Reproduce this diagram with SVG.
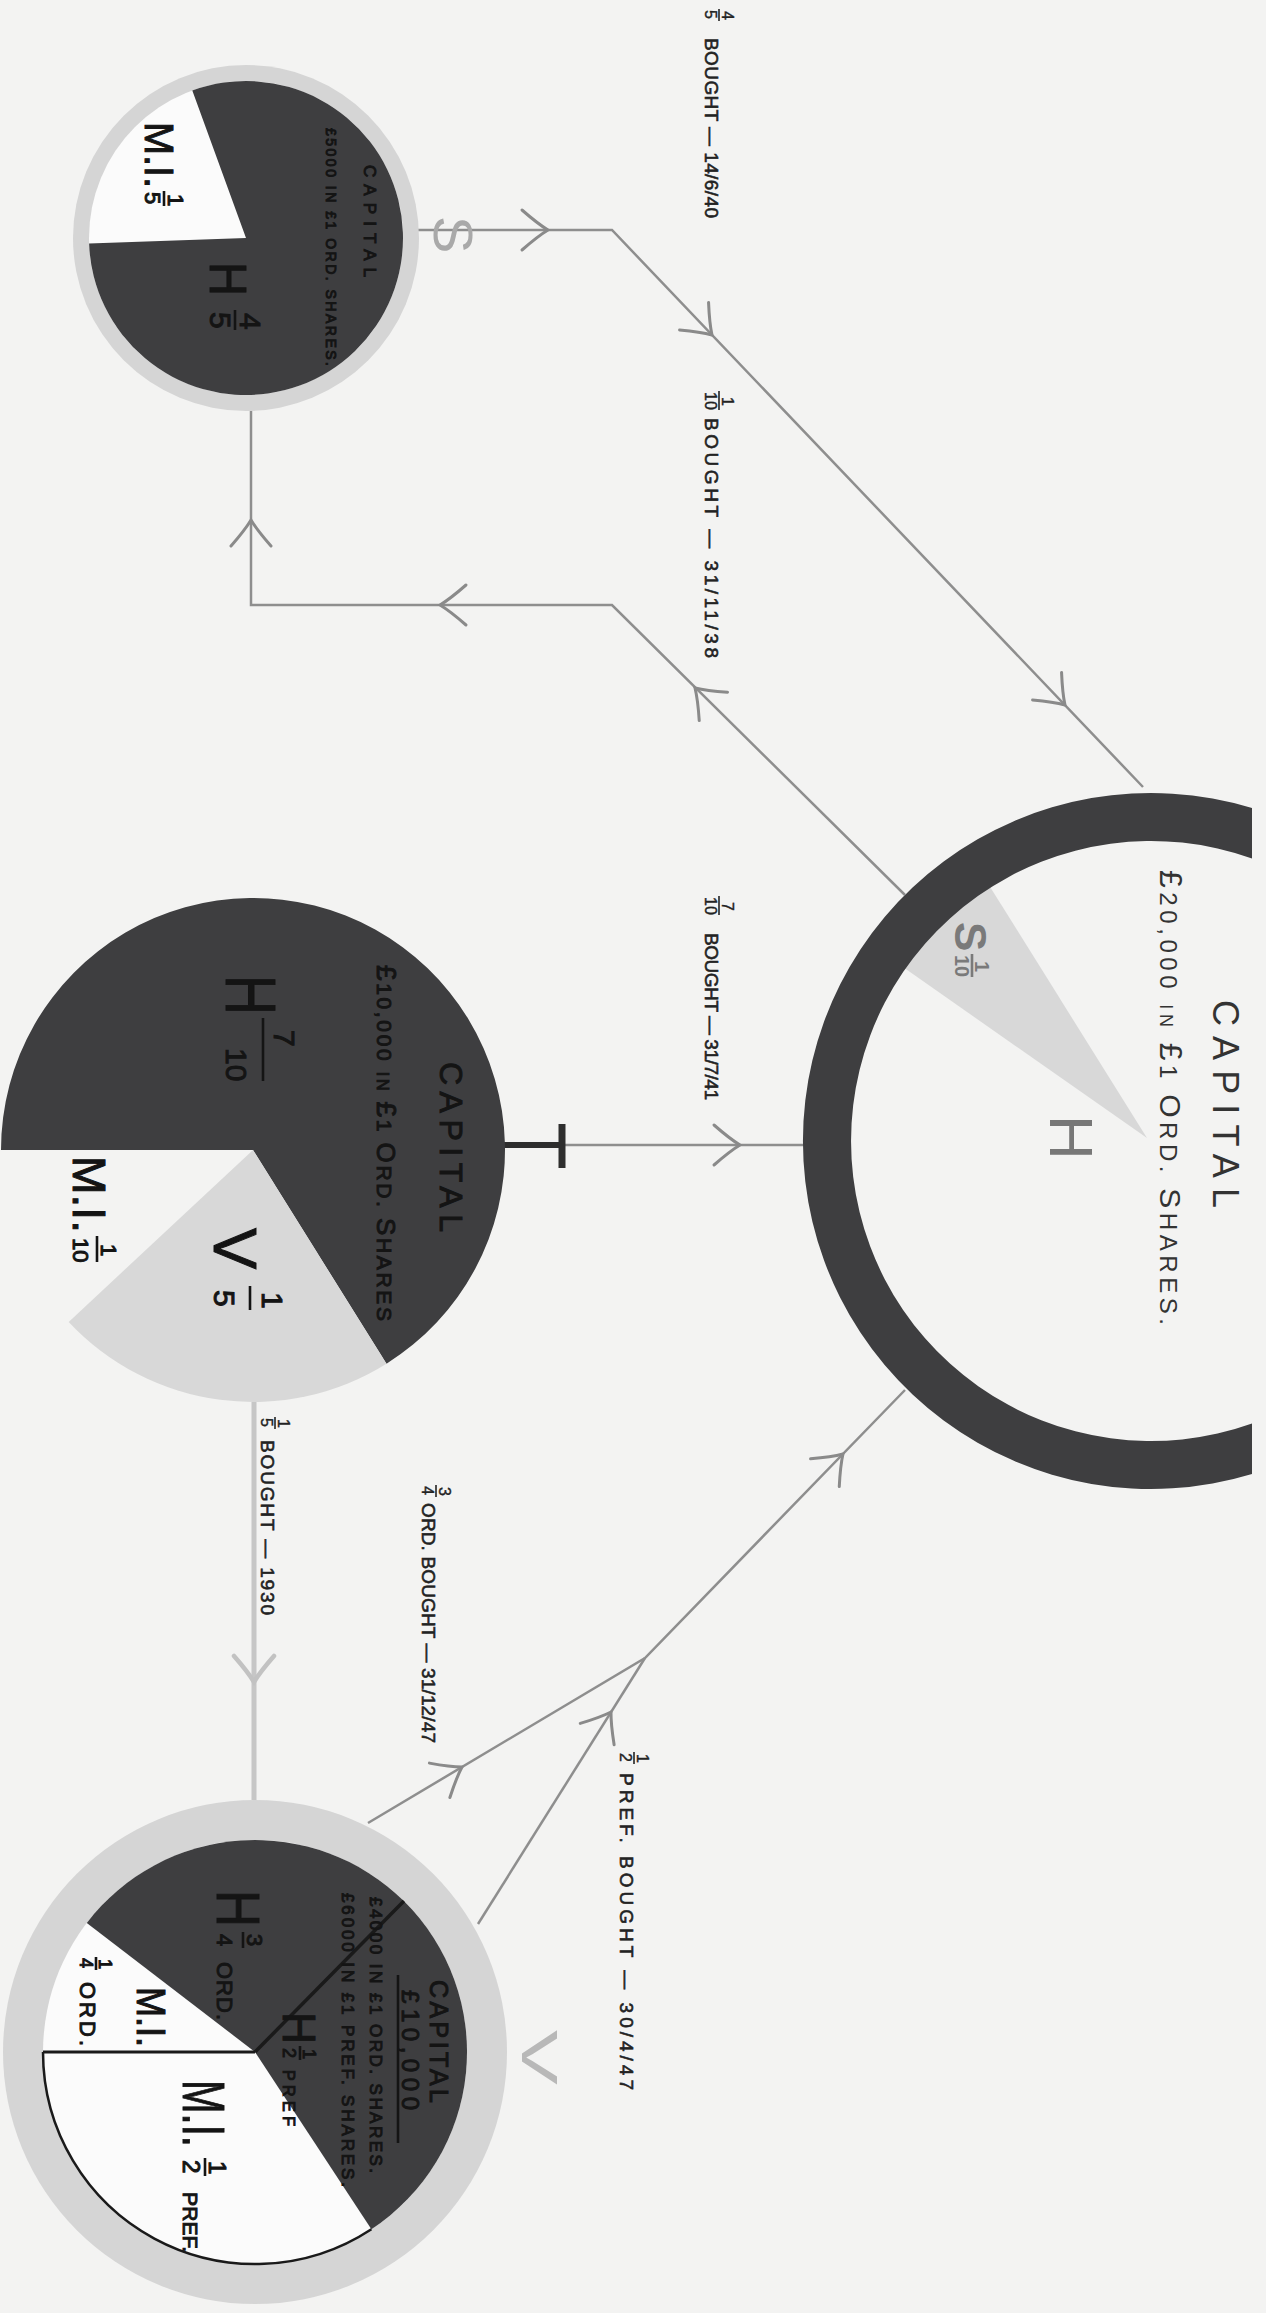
<svg xmlns="http://www.w3.org/2000/svg" xmlns:xlink="http://www.w3.org/1999/xlink" width="1266" height="2313" viewBox="0 0 1266 2313">
<defs>
<style>
.t{font-family:"Liberation Sans","DejaVu Sans",sans-serif;}
.lbl{fill:#222;stroke:#222;stroke-width:0.6;font-size:19px;}
.fr{fill:#222;stroke:#222;stroke-width:0.4;font-size:16px;}
.dk{fill:#141414;stroke:#141414;stroke-width:1;}
.bar{stroke:#222;stroke-width:1.6;}
.bard{stroke:#141414;stroke-width:2.6;}
.conn{fill:none;stroke:#8e8e8e;stroke-width:2.5;}
.connl{fill:none;stroke:#c6c6c6;stroke-width:5;}
.chev{fill:none;stroke:#8a8a8a;stroke-width:3;stroke-linecap:round;}
.chevl{fill:none;stroke:#c2c2c2;stroke-width:4.5;stroke-linecap:round;}
.dark{fill:#3e3e40;}
.ring{fill:#d5d5d5;}
.paper{fill:#fbfbfb;}
</style>
<path id="chev" d="M-26,-20 Q-10,-6 0,0 Q-10,6 -26,20"/>
</defs>
<rect x="0" y="0" width="1266" height="2313" fill="#f3f3f2"/>

<g id="connectors">
<path class="conn" d="M418,230 L612,230 L1143,787"/>
<path class="conn" d="M905,895 L612,605 L251,605 L251,411"/>
<path class="conn" d="M562,1145 L806,1145"/>
<path d="M503,1145 L562,1145" stroke="#2e2e2e" stroke-width="6" fill="none"/>
<path d="M562,1124 L562,1168" stroke="#2e2e2e" stroke-width="7" fill="none"/>
<path class="connl" d="M254,1402 L254,1800"/>
<path class="conn" d="M368,1823 L645,1658 L905,1390"/>
<path class="conn" d="M478,1924 L645,1658"/>
<use href="#chev" class="chev" transform="translate(548,230)"/>
<use href="#chev" class="chev" transform="translate(712,335) rotate(46.4)"/>
<use href="#chev" class="chev" transform="translate(1065,705) rotate(46.4)"/>
<use href="#chev" class="chev" transform="translate(695,688) rotate(225)"/>
<use href="#chev" class="chev" transform="translate(440,605) rotate(180)"/>
<use href="#chev" class="chev" transform="translate(251,520) rotate(270)"/>
<use href="#chev" class="chev" transform="translate(740,1145)"/>
<use href="#chev" class="chevl" transform="translate(254,1682) rotate(90)"/>
<use href="#chev" class="chev" transform="translate(462,1767) rotate(-30.8)"/>
<use href="#chev" class="chev" transform="translate(611,1712) rotate(-57.9)"/>
<use href="#chev" class="chev" transform="translate(843,1454) rotate(-45.9)"/>
</g>

<g id="labels" class="t">
<g id="lbl-s-h" transform="translate(705,10) rotate(90)">
<text class="fr" x="0" y="0">5</text><line class="bar" x1="-1" y1="-14" x2="11" y2="-14"/><text class="fr" x="1" y="-17">4</text>
<text class="lbl" x="28" y="0" textLength="180">BOUGHT — 14/6/40</text>
</g>
<g id="lbl-h-s" transform="translate(705,392) rotate(90)">
<text class="fr" x="0" y="0">10</text><line class="bar" x1="-1" y1="-14" x2="18" y2="-14"/><text class="fr" x="5" y="-17">1</text>
<text class="lbl" x="26" y="0" textLength="240">BOUGHT — 31/11/38</text>
</g>
<g id="lbl-v-h" transform="translate(705,897) rotate(90)">
<text class="fr" x="0" y="0">10</text><line class="bar" x1="-1" y1="-14" x2="18" y2="-14"/><text class="fr" x="5" y="-17">7</text>
<text class="lbl" x="36" y="0" textLength="167">BOUGHT — 31/7/41</text>
</g>
<g id="lbl-v-v" transform="translate(261,1418) rotate(90)">
<text class="fr" x="0" y="0">5</text><line class="bar" x1="-1" y1="-14" x2="11" y2="-14"/><text class="fr" x="1" y="-17">1</text>
<text class="lbl" x="22" y="0" textLength="175">BOUGHT — 1930</text>
</g>
<g id="lbl-ord" transform="translate(422,1486) rotate(90)">
<text class="fr" x="0" y="0">4</text><line class="bar" x1="-1" y1="-14" x2="11" y2="-14"/><text class="fr" x="1" y="-17">3</text>
<text class="lbl" x="17" y="0" textLength="240">ORD. BOUGHT — 31/12/47</text>
</g>
<g id="lbl-pref" transform="translate(620,1753) rotate(90)">
<text class="fr" x="0" y="0">2</text><line class="bar" x1="-1" y1="-14" x2="11" y2="-14"/><text class="fr" x="1" y="-17">1</text>
<text class="lbl" x="20" y="0" textLength="317">PREF. BOUGHT — 30/4/47</text>
</g>
</g>

<g id="node-S" class="t">
<circle class="ring" cx="246" cy="238" r="173"/>
<circle class="paper" cx="246" cy="238" r="157"/>
<path class="dark" d="M246,238 L192.3,90.5 A157,157 0 1 1 89.1,243.5 Z"/>
<g transform="translate(145,122) rotate(90)">
<text class="dk" x="0" y="0" font-size="40" textLength="66" lengthAdjust="spacingAndGlyphs">M.I.</text>
<text class="dk" x="70" y="0" font-size="22">5</text><line class="bard" x1="69" y1="-19" x2="84" y2="-19"/><text class="dk" x="72" y="-23" font-size="22">1</text>
</g>
<text class="dk" transform="translate(364,165) rotate(90)" font-size="17" stroke-width="0.4" textLength="112">CAPITAL</text>
<text class="dk" transform="translate(326,128) rotate(90)" font-size="14" stroke-width="0.3" textLength="238">£5000 IN £1 ORD. SHARES.</text>
<g transform="translate(210,262) rotate(90)">
<text class="dk" x="0" y="0" font-size="52" textLength="34" lengthAdjust="spacingAndGlyphs">H</text>
<text class="dk" x="50" y="0" font-size="30">5</text><line class="bard" x1="48" y1="-25" x2="68" y2="-25"/><text class="dk" x="51" y="-30" font-size="30">4</text>
</g>
<text class="t" transform="translate(434,216) rotate(90)" font-size="56" fill="#a9a9a9">S</text>
</g>

<g id="node-H" class="t">
<path d="M1147,1138 L880.8,951.6 A325,325 0 0 1 974.8,862.4 Z" fill="#d8d8d8"/>
<path class="dark" d="M1252,808 A348,348 0 1 0 1252,1474 L1252,1423.5 A300,300 0 1 1 1252,858.5 Z"/>
<g transform="translate(955,922) rotate(90)" fill="#7a7a7a">
<text x="0" y="0" font-size="44" font-weight="bold">S</text>
<text x="33" y="0" font-size="20" font-weight="bold">10</text><line x1="32" y1="-17" x2="55" y2="-17" stroke="#7a7a7a" stroke-width="2.6"/><text x="39" y="-20" font-size="20" font-weight="bold">1</text>
</g>
<text transform="translate(1050,1115) rotate(90)" font-size="62" fill="#777">H</text>
<text transform="translate(1213,1000) rotate(90)" font-size="36" fill="#333" textLength="208">CAPITAL</text>
<text transform="translate(1160,870) rotate(90)" font-size="24" fill="#333" textLength="455"><tspan font-size="32">£</tspan>20,000 <tspan font-size="18">IN</tspan> <tspan font-size="32">£</tspan>1 <tspan font-size="30">O</tspan>RD. <tspan font-size="30">S</tspan>HARES.</text>
</g>

<g id="node-V" class="t">
<path class="dark" d="M253,1150 L1,1150 A252,252 0 1 1 386.5,1363.7 Z"/>
<path d="M253,1150 L386.5,1363.7 A252,252 0 0 1 68.7,1321.9 Z" fill="#d8d8d8"/>
<text class="dk" transform="translate(440,1062) rotate(90)" font-size="32" stroke-width="0.5" textLength="170">CAPITAL</text>
<text class="dk" transform="translate(377,965) rotate(90)" font-size="21" stroke-width="0.5" textLength="356"><tspan font-size="28">£</tspan>10,000 <tspan font-size="16">IN</tspan> <tspan font-size="28">£</tspan>1 <tspan font-size="26">O</tspan>RD. <tspan font-size="26">S</tspan>HARES</text>
<g transform="translate(226,975) rotate(90)">
<text class="dk" x="0" y="0" font-size="70" textLength="40" lengthAdjust="spacingAndGlyphs">H</text>
<text class="dk" x="73" y="0" font-size="30">10</text><line class="bard" x1="43" y1="-37" x2="106" y2="-37"/><text class="dk" x="55" y="-48" font-size="30">7</text>
</g>
<g transform="translate(214,1228) rotate(90)">
<text class="dk" x="0" y="0" font-size="62">V</text>
<text class="dk" x="62" y="0" font-size="30">5</text><line class="bard" x1="58" y1="-36" x2="82" y2="-36"/><text class="dk" x="64" y="-48" font-size="30">1</text>
</g>
<g transform="translate(73,1156) rotate(90)">
<text class="dk" x="0" y="0" font-size="47" textLength="77" lengthAdjust="spacingAndGlyphs">M.I.</text>
<text class="dk" x="82" y="0" font-size="22">10</text><line class="bard" x1="80" y1="-24" x2="106" y2="-24"/><text class="dk" x="88" y="-28" font-size="22">1</text>
</g>
</g>

<g id="node-V2" class="t">
<circle class="ring" cx="255" cy="2052" r="252"/>
<circle class="paper" cx="255" cy="2052" r="212"/>
<path class="dark" d="M255,2052 L86.8,1922.9 A212,212 0 0 1 403.9,1901.1 Z"/>
<path class="dark" d="M255,2052 L403.9,1901.1 A212,212 0 0 1 371.4,2229.2 Z"/>
<path d="M371.4,2229.2 A212,212 0 0 1 43,2052" fill="none" stroke="#1a1a1a" stroke-width="2.5"/>
<path d="M255,2052 L43,2052" stroke="#1a1a1a" stroke-width="3"/>
<path d="M255,2052 L403.9,1901.1" stroke="#1a1a1a" stroke-width="3.5"/>
<text class="dk" transform="translate(430,1980) rotate(90)" font-size="25" stroke-width="0.5" textLength="123">CAPITAL</text>
<g transform="translate(402,1990) rotate(90)">
<text class="dk" x="0" y="0" font-size="24" stroke-width="0.5" textLength="120">£10,000</text>
<line class="bard" x1="-15" y1="4" x2="153" y2="4" stroke-width="2"/>
</g>
<text class="dk" transform="translate(370,1897) rotate(90)" font-size="17" stroke-width="0.4" textLength="276">£4000 IN £1 ORD. SHARES.</text>
<text class="dk" transform="translate(342,1893) rotate(90)" font-size="17" stroke-width="0.4" textLength="294">£6000 IN £1 PREF. SHARES.</text>
<g transform="translate(217,1890) rotate(90)">
<text class="dk" x="0" y="0" font-size="62" textLength="37" lengthAdjust="spacingAndGlyphs">H</text>
<text class="dk" x="44" y="0" font-size="22">4</text><line class="bard" x1="42" y1="-26" x2="58" y2="-26"/><text class="dk" x="44" y="-30" font-size="22">3</text>
<text class="dk" x="72" y="0" font-size="22" stroke-width="0.5" textLength="58">ORD.</text>
</g>
<g transform="translate(283,2012) rotate(90)">
<text class="dk" x="0" y="0" font-size="46" textLength="32" lengthAdjust="spacingAndGlyphs">H</text>
<text class="dk" x="36" y="0" font-size="18">2</text><line class="bard" x1="34" y1="-17" x2="48" y2="-17"/><text class="dk" x="37" y="-20" font-size="18">1</text>
<text class="dk" x="58" y="0" font-size="16" stroke-width="0.4" textLength="56">PREF</text>
</g>
<text class="dk" transform="translate(137,1987) rotate(90)" font-size="40" textLength="60" lengthAdjust="spacingAndGlyphs">M.I.</text>
<g transform="translate(80,1958) rotate(90)">
<text class="dk" x="0" y="0" font-size="18">4</text><line class="bard" x1="-1" y1="-16" x2="12" y2="-16"/><text class="dk" x="1" y="-19" font-size="18">1</text>
<text class="dk" x="24" y="0" font-size="22" stroke-width="0.5" textLength="64">ORD.</text>
</g>
<g transform="translate(183,2080) rotate(90)">
<text class="dk" x="0" y="0" font-size="60" textLength="67" lengthAdjust="spacingAndGlyphs">M.I.</text>
<text class="dk" x="80" y="0" font-size="24">2</text><line class="bard" x1="78" y1="-22" x2="96" y2="-22"/><text class="dk" x="81" y="-26" font-size="24">1</text>
<text class="dk" x="112" y="0" font-size="21" stroke-width="0.5" textLength="60">PREF.</text>
</g>
<text transform="translate(522,2030) rotate(90)" font-size="50" fill="#b8b8b8" textLength="55" lengthAdjust="spacingAndGlyphs">V</text>
</g>
</svg>
